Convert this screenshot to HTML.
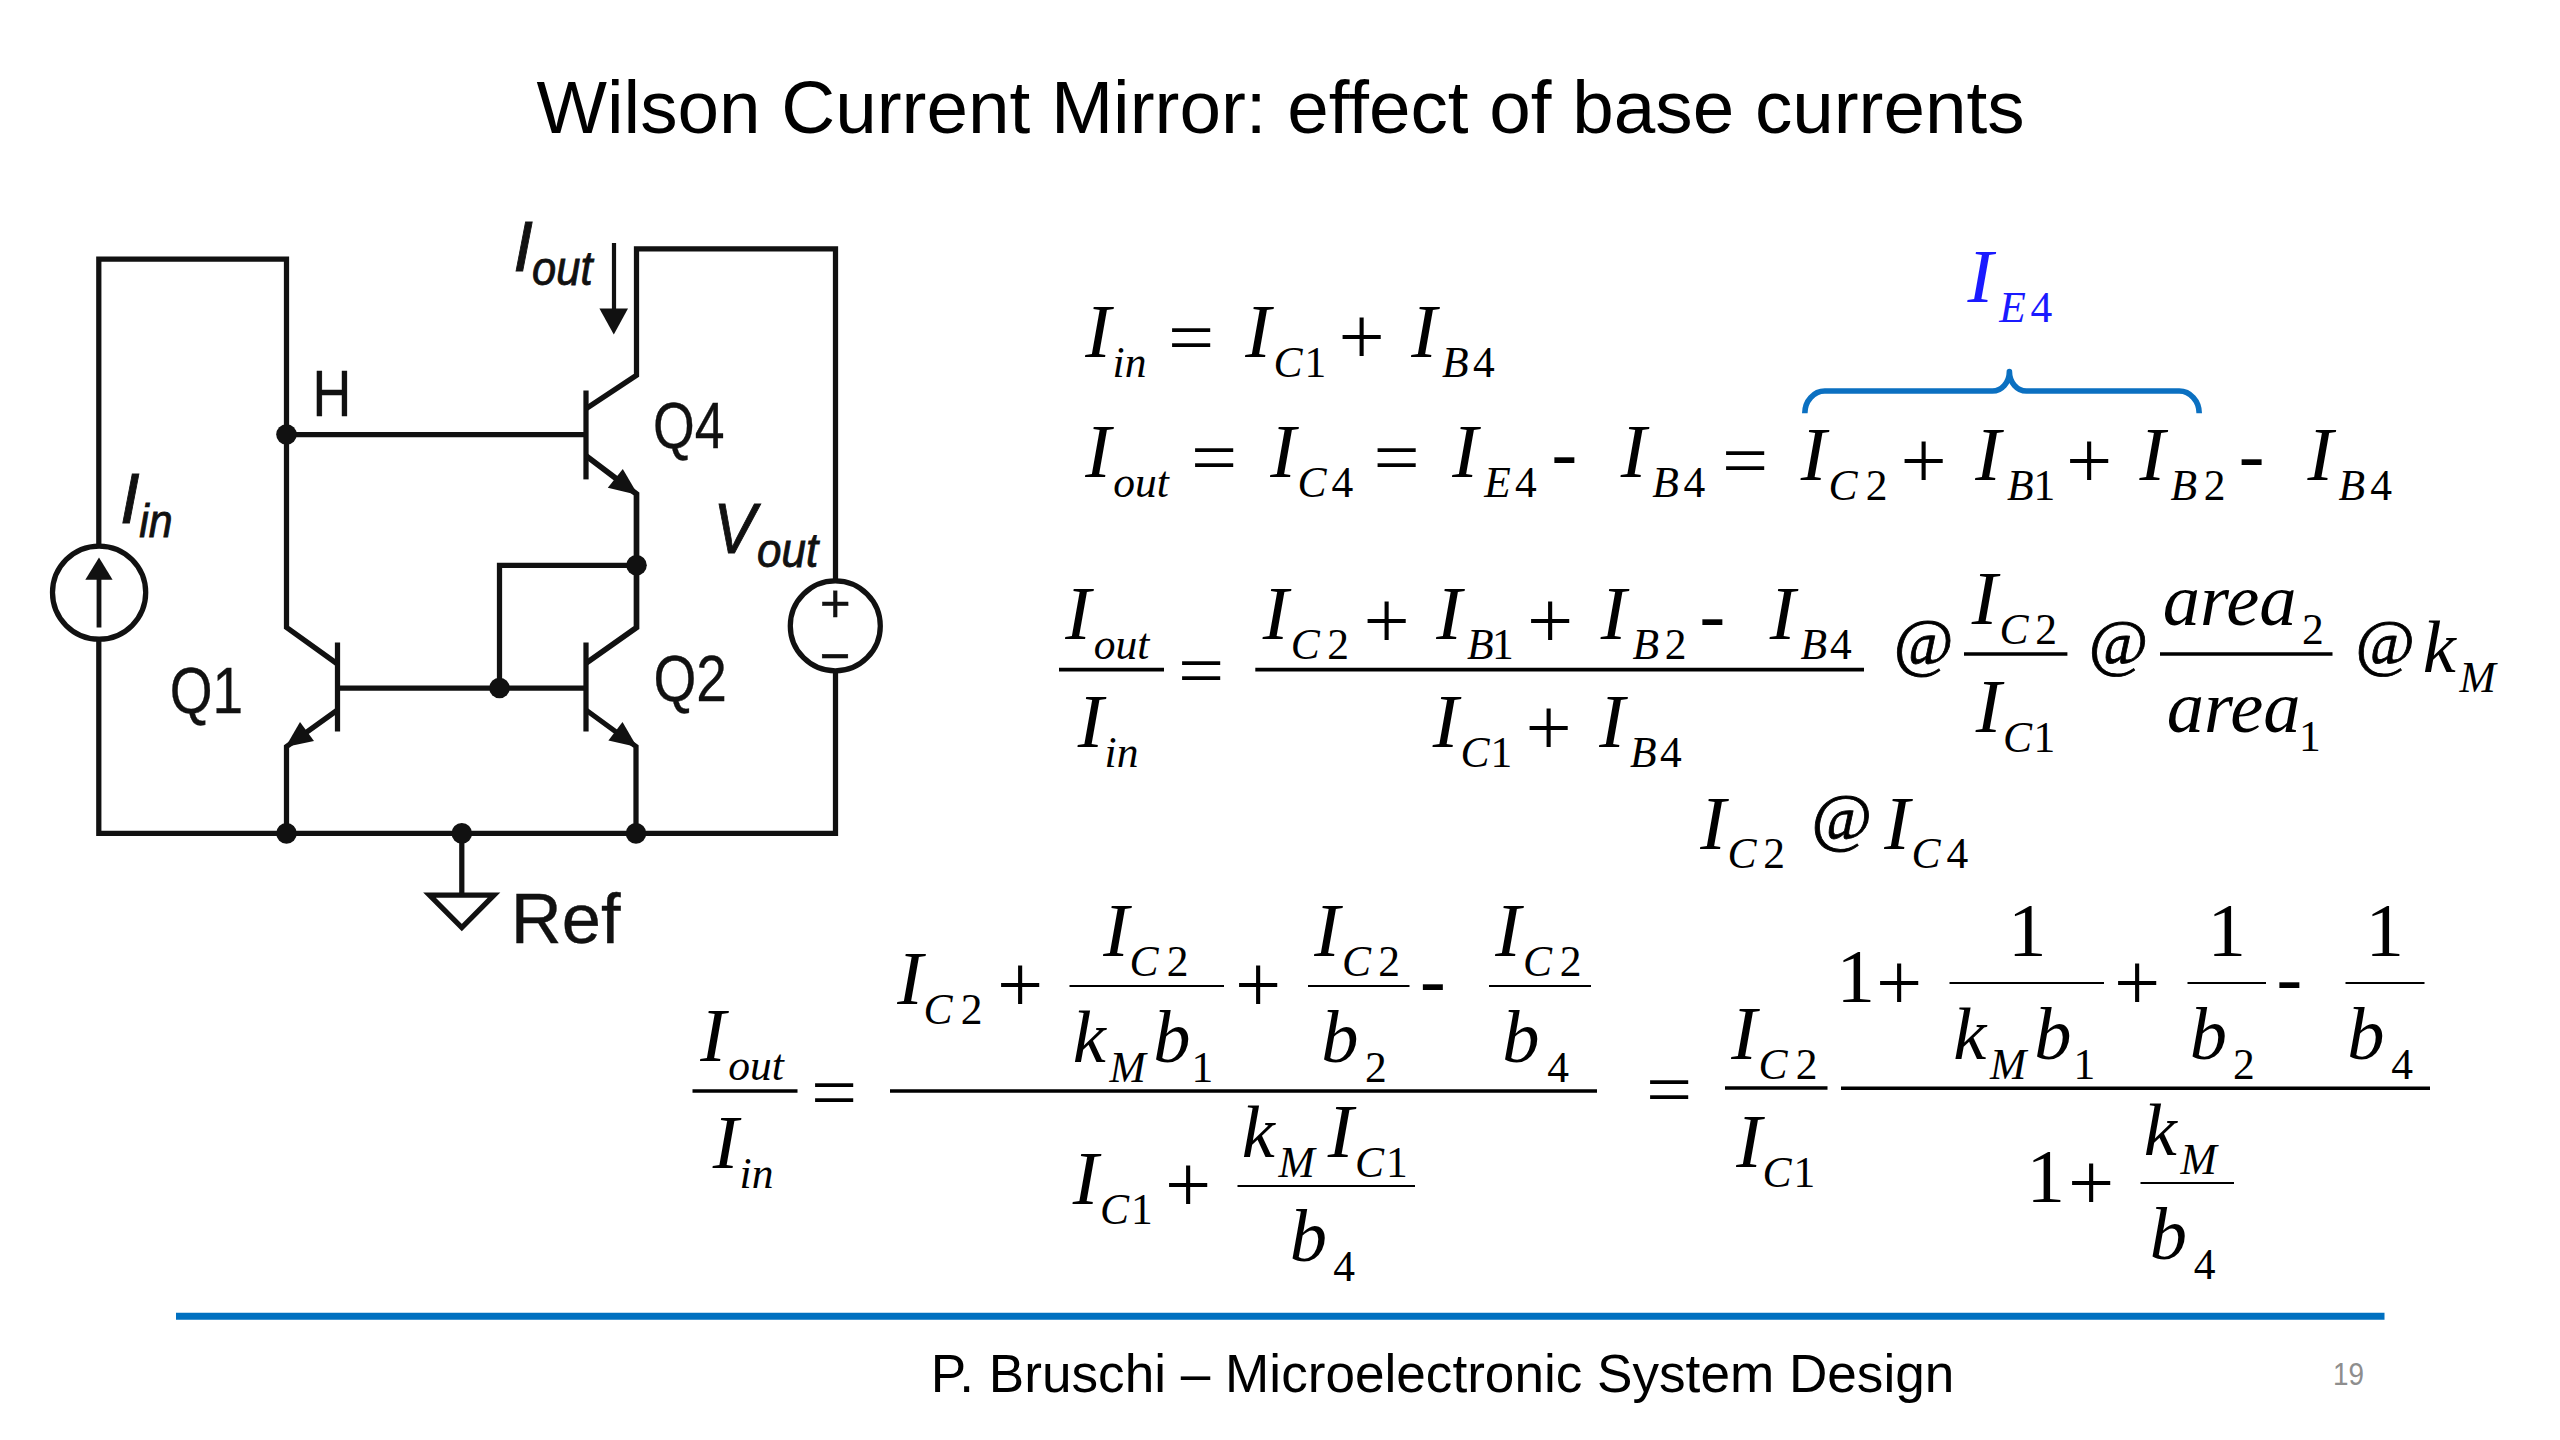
<!DOCTYPE html>
<html lang="en"><head><meta charset="utf-8"><title>Wilson Current Mirror: effect of base currents</title>
<style>
html,body{margin:0;padding:0;background:#fff;}
body{width:2560px;height:1440px;overflow:hidden;}
svg{display:block;}
text{white-space:pre;}
.f{font-family:"Liberation Serif",serif;}
.fi{font-family:"Liberation Serif",serif;font-style:italic;}
.g{font-family:"Liberation Sans",sans-serif;}
.gi{font-family:"Liberation Sans",sans-serif;font-style:italic;}
</style></head><body>
<svg width="2560" height="1440" viewBox="0 0 2560 1440">
<rect width="2560" height="1440" fill="#fff"/>
<!-- footer rule -->
<line x1="176" y1="1316.2" x2="2384.5" y2="1316.2" stroke="#0070c0" stroke-width="7"/>
<!-- circuit -->
<g fill="none" stroke="#111" stroke-width="5.25" stroke-linejoin="miter" stroke-linecap="butt">
<!-- left loop + Q1 collector -->
<path d="M98.8 546 V259.2 H286.5 V627.5 L337.5 664"/>
<circle cx="99.1" cy="592.6" r="46.6"/>
<path d="M98.8 639 V833.4 H835.5 V672"/>
<circle cx="835.3" cy="625.9" r="45"/>
<path d="M835.5 580 V248.8 H636.5 V375.3 L586.3 408.5"/>
<!-- Q4 -->
<path d="M586 390.5 V479.4"/>
<path d="M286.5 434.5 H586"/>
<path d="M586.3 456 L636.5 494 V627.5 L586.3 663" stroke-width="5.7"/>
<!-- diode connection -->
<path d="M636.5 565.3 H499.5 V688"/>
<path d="M337.5 688 H586"/>
<!-- Q1 / Q2 -->
<path d="M337.5 642.5 V731.5"/>
<path d="M586 642.5 V731.5"/>
<path d="M337.5 710 L286.5 746.5 V833.4"/>
<path d="M586 710 L636 746.5 V833.4"/>
<!-- ground -->
<path d="M461.8 833.4 V895"/>
<path d="M429.5 895.2 H494 L461.8 927.5 Z"/>
<!-- arrows shafts -->
<path d="M614 243 V312" stroke-width="4.2"/>
<path d="M99 627.5 V575" stroke-width="4.8"/>
</g>
<g fill="#111" stroke="none">
<circle cx="286.5" cy="434.5" r="10.3"/>
<circle cx="636.5" cy="565.3" r="10.3"/>
<circle cx="499.5" cy="688" r="10.3"/>
<circle cx="286.5" cy="833.4" r="10.3"/>
<circle cx="461.8" cy="833.4" r="10.3"/>
<circle cx="636" cy="833.4" r="10.3"/>
<polygon points="599.4,308.4 628,308.4 613.8,334.5"/>
<polygon points="99,557.5 85.3,579.8 112.6,579.8"/>
<polygon points="638,495 622.8,469 607.8,487.8"/>
<polygon points="637,747 622.5,722 608.4,740.4"/>
<polygon points="285.5,747 300,722 314,741"/>
</g>

<!-- fraction bars -->
<g>
<line x1="1059" y1="669.6" x2="1164" y2="669.6" stroke="#000" stroke-width="3.6"/>
<line x1="1255.3" y1="669.6" x2="1864" y2="669.6" stroke="#000" stroke-width="3.6"/>
<line x1="1964" y1="654" x2="2067.4" y2="654" stroke="#000" stroke-width="3.4"/>
<line x1="2160" y1="654" x2="2332.5" y2="654" stroke="#000" stroke-width="3.4"/>
<line x1="692.5" y1="1091" x2="797.5" y2="1091" stroke="#000" stroke-width="3.6"/>
<line x1="890" y1="1091" x2="1597" y2="1091" stroke="#000" stroke-width="3.6"/>
<line x1="1069.5" y1="986" x2="1224" y2="986" stroke="#000" stroke-width="2.2"/>
<line x1="1308" y1="986" x2="1409.5" y2="986" stroke="#000" stroke-width="2.2"/>
<line x1="1489" y1="986" x2="1591" y2="986" stroke="#000" stroke-width="2.2"/>
<line x1="1237.5" y1="1186" x2="1415" y2="1186" stroke="#000" stroke-width="2.2"/>
<line x1="1725" y1="1088" x2="1827.5" y2="1088" stroke="#000" stroke-width="3.4"/>
<line x1="1841" y1="1088.3" x2="2430" y2="1088.3" stroke="#000" stroke-width="3.6"/>
<line x1="1949.5" y1="983" x2="2104" y2="983" stroke="#000" stroke-width="2.2"/>
<line x1="2187.5" y1="983" x2="2266" y2="983" stroke="#000" stroke-width="2.2"/>
<line x1="2345.5" y1="983" x2="2424.5" y2="983" stroke="#000" stroke-width="2.2"/>
<line x1="2140.5" y1="1183" x2="2234" y2="1183" stroke="#000" stroke-width="2.2"/>
</g>
<!-- brace -->
<path d="M1804.8 413.2 A20 22.2 0 0 1 1824.8 391 H1992.4 A17 19.5 0 0 0 2009.4 371.5 A17 19.5 0 0 0 2026.4 391 H2179.2 A20 22.2 0 0 1 2199.2 413.2" fill="none" stroke="#0b70c1" stroke-width="5.6" stroke-linejoin="round"/>
<!-- text -->
<g fill="#000">
<text class="fi" x="1085.19" y="357.30" font-size="77.00">I</text>
<text class="fi" x="1112.61" y="377.00" font-size="43.50">in</text>
<text class="f" transform="translate(1167.90 361.74) scale(1.0 0.9)" font-size="82.00">=</text>
<text class="fi" x="1245.19" y="357.30" font-size="77.00">I</text>
<text class="fi" x="1273.61" y="377.00" font-size="43.50">C</text>
<text class="f" x="1304.53" y="377.00" font-size="43.50">1</text>
<text class="f" x="1338.40" y="364.46" font-size="82.00">+</text>
<text class="fi" x="1411.19" y="357.30" font-size="77.00">I</text>
<text class="fi" x="1442.07" y="377.00" font-size="43.50">B</text>
<text class="f" x="1472.90" y="377.00" font-size="43.50">4</text>
<text class="fi" x="1085.19" y="477.30" font-size="77.00">I</text>
<text class="fi" x="1113.19" y="497.00" font-size="43.50">out</text>
<text class="f" transform="translate(1190.90 482.24) scale(1.0 0.9)" font-size="82.00">=</text>
<text class="fi" x="1270.19" y="477.30" font-size="77.00">I</text>
<text class="fi" x="1297.61" y="497.00" font-size="43.50">C</text>
<text class="f" x="1331.40" y="497.00" font-size="43.50">4</text>
<text class="f" transform="translate(1373.40 482.24) scale(1.0 0.9)" font-size="82.00">=</text>
<text class="fi" x="1452.19" y="477.30" font-size="77.00">I</text>
<text class="fi" x="1484.29" y="497.00" font-size="43.50">E</text>
<text class="f" x="1514.90" y="497.00" font-size="43.50">4</text>
<text class="f" x="1551.41" y="477.90" font-size="77.00">-</text>
<text class="fi" x="1620.69" y="477.30" font-size="77.00">I</text>
<text class="fi" x="1652.27" y="497.00" font-size="43.50">B</text>
<text class="f" x="1683.60" y="497.00" font-size="43.50">4</text>
<text class="f" transform="translate(1722.10 484.84) scale(1.0 0.9)" font-size="82.00">=</text>
<text class="fi" x="1800.69" y="480.00" font-size="77.00">I</text>
<text class="fi" x="1828.61" y="499.70" font-size="43.50">C</text>
<text class="f" x="1865.64" y="499.70" font-size="43.50">2</text>
<text class="f" x="1900.50" y="487.66" font-size="82.00">+</text>
<text class="fi" x="1975.19" y="480.00" font-size="77.00">I</text>
<text class="fi" x="2007.07" y="499.70" font-size="43.50">B</text>
<text class="f" x="2033.53" y="499.70" font-size="43.50">1</text>
<text class="f" x="2065.90" y="487.66" font-size="82.00">+</text>
<text class="fi" x="2139.49" y="480.00" font-size="77.00">I</text>
<text class="fi" x="2170.57" y="499.70" font-size="43.50">B</text>
<text class="f" x="2203.64" y="499.70" font-size="43.50">2</text>
<text class="f" x="2238.71" y="479.80" font-size="77.00">-</text>
<text class="fi" x="2307.39" y="480.00" font-size="77.00">I</text>
<text class="fi" x="2338.57" y="499.70" font-size="43.50">B</text>
<text class="f" x="2370.30" y="499.70" font-size="43.50">4</text>
<text class="fi" x="1967.59" y="302.00" font-size="77.00" fill="#1a1aff">I</text>
<text class="fi" x="1999.14" y="321.70" font-size="43.50" fill="#1a1aff">E</text>
<text class="f" x="2030.40" y="321.70" font-size="43.50" fill="#1a1aff">4</text>
<text class="fi" x="1065.19" y="639.30" font-size="77.00">I</text>
<text class="fi" x="1093.69" y="659.00" font-size="43.50">out</text>
<text class="fi" x="1077.69" y="747.00" font-size="77.00">I</text>
<text class="fi" x="1104.61" y="766.70" font-size="43.50">in</text>
<text class="f" transform="translate(1177.90 694.84) scale(1.0 0.9)" font-size="82.00">=</text>
<text class="fi" x="1262.79" y="639.30" font-size="77.00">I</text>
<text class="fi" x="1290.81" y="659.00" font-size="43.50">C</text>
<text class="f" x="1327.14" y="659.00" font-size="43.50">2</text>
<text class="f" x="1363.50" y="648.26" font-size="82.00">+</text>
<text class="fi" x="1436.19" y="639.30" font-size="77.00">I</text>
<text class="fi" x="1467.07" y="659.00" font-size="43.50">B</text>
<text class="f" x="1492.03" y="659.00" font-size="43.50">1</text>
<text class="f" x="1526.90" y="648.26" font-size="82.00">+</text>
<text class="fi" x="1600.69" y="639.30" font-size="77.00">I</text>
<text class="fi" x="1632.57" y="659.00" font-size="43.50">B</text>
<text class="f" x="1664.64" y="659.00" font-size="43.50">2</text>
<text class="f" x="1699.61" y="639.50" font-size="77.00">-</text>
<text class="fi" x="1769.69" y="639.30" font-size="77.00">I</text>
<text class="fi" x="1800.57" y="659.00" font-size="43.50">B</text>
<text class="f" x="1829.90" y="659.00" font-size="43.50">4</text>
<text class="fi" x="1432.69" y="747.00" font-size="77.00">I</text>
<text class="fi" x="1460.61" y="766.70" font-size="43.50">C</text>
<text class="f" x="1490.53" y="766.70" font-size="43.50">1</text>
<text class="f" x="1525.40" y="755.47" font-size="82.00">+</text>
<text class="fi" x="1599.19" y="747.00" font-size="77.00">I</text>
<text class="fi" x="1630.07" y="766.70" font-size="43.50">B</text>
<text class="f" x="1659.90" y="766.70" font-size="43.50">4</text>
<text class="fi" x="1893.47" y="663.99" font-size="64.79" stroke="#000" stroke-width="0.8">@</text>
<text class="fi" x="1971.79" y="624.20" font-size="77.00">I</text>
<text class="fi" x="1999.41" y="643.90" font-size="43.50">C</text>
<text class="f" x="2035.14" y="643.90" font-size="43.50">2</text>
<text class="fi" x="1975.69" y="731.80" font-size="77.00">I</text>
<text class="fi" x="2003.01" y="751.50" font-size="43.50">C</text>
<text class="f" x="2033.53" y="751.50" font-size="43.50">1</text>
<text class="fi" x="2088.50" y="663.90" font-size="64.42" stroke="#000" stroke-width="0.8">@</text>
<text class="fi" x="2162.76" y="625.00" font-size="74.50">area</text>
<text class="f" x="2302.04" y="643.50" font-size="43.50">2</text>
<text class="fi" x="2166.76" y="731.80" font-size="74.50">area</text>
<text class="f" x="2299.03" y="751.00" font-size="43.50">1</text>
<text class="fi" x="2355.30" y="663.90" font-size="64.42" stroke="#000" stroke-width="0.8">@</text>
<text class="fi" x="2422.76" y="672.20" font-size="74.50">k</text>
<text class="fi" x="2459.54" y="691.80" font-size="43.50">M</text>
<text class="fi" x="1700.19" y="848.60" font-size="77.00">I</text>
<text class="fi" x="1727.61" y="868.30" font-size="43.50">C</text>
<text class="f" x="1763.14" y="868.30" font-size="43.50">2</text>
<text class="fi" x="1811.23" y="839.49" font-size="65.64" stroke="#000" stroke-width="0.8">@</text>
<text class="fi" x="1884.19" y="848.60" font-size="77.00">I</text>
<text class="fi" x="1911.61" y="868.30" font-size="43.50">C</text>
<text class="f" x="1946.40" y="868.30" font-size="43.50">4</text>
<text class="fi" x="700.19" y="1060.50" font-size="77.00">I</text>
<text class="fi" x="728.20" y="1080.20" font-size="43.50">out</text>
<text class="fi" x="712.69" y="1167.80" font-size="77.00">I</text>
<text class="fi" x="739.61" y="1187.50" font-size="43.50">in</text>
<text class="f" transform="translate(810.90 1116.54) scale(1.0 0.9)" font-size="82.00">=</text>
<text class="fi" x="897.19" y="1004.00" font-size="77.00">I</text>
<text class="fi" x="923.61" y="1023.70" font-size="43.50">C</text>
<text class="f" x="960.64" y="1023.70" font-size="43.50">2</text>
<text class="f" x="996.90" y="1012.26" font-size="82.00">+</text>
<text class="fi" x="1103.19" y="956.30" font-size="77.00">I</text>
<text class="fi" x="1129.61" y="976.00" font-size="43.50">C</text>
<text class="f" x="1166.64" y="976.00" font-size="43.50">2</text>
<text class="fi" x="1072.77" y="1062.00" font-size="74.50">k</text>
<text class="fi" x="1109.54" y="1081.70" font-size="43.50">M</text>
<text class="fi" x="1153.21" y="1062.00" font-size="74.50">b</text>
<text class="f" x="1191.53" y="1081.70" font-size="43.50">1</text>
<text class="f" x="1234.90" y="1012.26" font-size="82.00">+</text>
<text class="fi" x="1314.19" y="956.30" font-size="77.00">I</text>
<text class="fi" x="1342.11" y="976.00" font-size="43.50">C</text>
<text class="f" x="1378.14" y="976.00" font-size="43.50">2</text>
<text class="fi" x="1321.21" y="1062.00" font-size="74.50">b</text>
<text class="f" x="1365.04" y="1081.70" font-size="43.50">2</text>
<text class="f" x="1420.11" y="1004.60" font-size="77.00">-</text>
<text class="fi" x="1495.19" y="956.30" font-size="77.00">I</text>
<text class="fi" x="1523.11" y="976.00" font-size="43.50">C</text>
<text class="f" x="1559.64" y="976.00" font-size="43.50">2</text>
<text class="fi" x="1502.21" y="1062.00" font-size="74.50">b</text>
<text class="f" x="1547.13" y="1081.70" font-size="43.50">4</text>
<text class="fi" x="1072.69" y="1203.90" font-size="77.00">I</text>
<text class="fi" x="1100.11" y="1223.60" font-size="43.50">C</text>
<text class="f" x="1131.03" y="1223.60" font-size="43.50">1</text>
<text class="f" x="1164.90" y="1212.47" font-size="82.00">+</text>
<text class="fi" x="1241.77" y="1157.00" font-size="74.50">k</text>
<text class="fi" x="1278.54" y="1176.70" font-size="43.50">M</text>
<text class="fi" x="1327.69" y="1157.00" font-size="77.00">I</text>
<text class="fi" x="1355.11" y="1176.70" font-size="43.50">C</text>
<text class="f" x="1386.03" y="1176.70" font-size="43.50">1</text>
<text class="fi" x="1289.71" y="1261.00" font-size="74.50">b</text>
<text class="f" x="1333.13" y="1280.70" font-size="43.50">4</text>
<text class="f" transform="translate(1645.90 1113.54) scale(1.0 0.9)" font-size="82.00">=</text>
<text class="fi" x="1731.19" y="1058.90" font-size="77.00">I</text>
<text class="fi" x="1758.61" y="1078.60" font-size="43.50">C</text>
<text class="f" x="1795.64" y="1078.60" font-size="43.50">2</text>
<text class="fi" x="1736.19" y="1167.00" font-size="77.00">I</text>
<text class="fi" x="1762.61" y="1186.70" font-size="43.50">C</text>
<text class="f" x="1793.53" y="1186.70" font-size="43.50">1</text>
<text class="f" x="1836.44" y="1002.00" font-size="77.00">1</text>
<text class="f" x="1875.90" y="1010.26" font-size="82.00">+</text>
<text class="f" x="2007.94" y="956.00" font-size="77.00">1</text>
<text class="fi" x="1953.27" y="1058.90" font-size="74.50">k</text>
<text class="fi" x="1990.04" y="1078.60" font-size="43.50">M</text>
<text class="fi" x="2034.21" y="1058.90" font-size="74.50">b</text>
<text class="f" x="2073.53" y="1078.60" font-size="43.50">1</text>
<text class="f" x="2113.90" y="1010.26" font-size="82.00">+</text>
<text class="f" x="2207.44" y="956.00" font-size="77.00">1</text>
<text class="fi" x="2189.71" y="1058.90" font-size="74.50">b</text>
<text class="f" x="2233.04" y="1078.60" font-size="43.50">2</text>
<text class="f" x="2276.61" y="1002.60" font-size="77.00">-</text>
<text class="f" x="2365.44" y="956.00" font-size="77.00">1</text>
<text class="fi" x="2347.21" y="1058.90" font-size="74.50">b</text>
<text class="f" x="2391.13" y="1078.60" font-size="43.50">4</text>
<text class="f" x="2026.44" y="1201.70" font-size="77.00">1</text>
<text class="f" x="2067.90" y="1210.27" font-size="82.00">+</text>
<text class="fi" x="2143.76" y="1154.60" font-size="74.50">k</text>
<text class="fi" x="2180.54" y="1174.30" font-size="43.50">M</text>
<text class="fi" x="2149.71" y="1258.90" font-size="74.50">b</text>
<text class="f" x="2193.63" y="1278.60" font-size="43.50">4</text>
<text class="g" x="536.50" y="133.00" font-size="74.67">Wilson Current Mirror: effect of base currents</text>
<text class="g" x="930.77" y="1392.00" font-size="53.13">P. Bruschi – Microelectronic System Design</text>
<text class="g" transform="translate(2333.11 1384.60) scale(0.8993 1.0)" font-size="31.00" fill="#8e8e8e">19</text>
<text class="g" transform="translate(312.56 415.80) scale(0.8295 1.0)" font-size="64.87" fill="#111" stroke="#111" stroke-width="0.35">H</text>
<text class="g" transform="translate(653.05 448.00) scale(0.8281 1.0)" font-size="64.73" fill="#111" stroke="#111" stroke-width="0.35">Q4</text>
<text class="g" transform="translate(653.38 701.00) scale(0.8507 1.0)" font-size="64.73" fill="#111" stroke="#111" stroke-width="0.35">Q2</text>
<text class="g" transform="translate(169.69 713.20) scale(0.85 1.0)" font-size="64.73" fill="#111" stroke="#111" stroke-width="0.35">Q1</text>
<text class="g" transform="translate(510.78 943.40) scale(1.0141 1.0)" font-size="69.53" fill="#111" stroke="#111" stroke-width="0.35">Ref</text>
<text class="gi" transform="translate(513.16 271.00) scale(1.0059 1.0)" font-size="70.69" fill="#111" stroke="#111" stroke-width="0.9">I</text>
<text class="gi" transform="translate(532.09 285.00) scale(0.9167 1.0)" font-size="47.39" fill="#111" stroke="#111" stroke-width="0.9">out</text>
<text class="gi" transform="translate(119.96 522.50) scale(0.9987 1.0)" font-size="70.98" fill="#111" stroke="#111" stroke-width="0.9">I</text>
<text class="gi" transform="translate(139.25 536.50) scale(0.914 1.0)" font-size="46.82" fill="#111" stroke="#111" stroke-width="0.9">in</text>
<text class="gi" transform="translate(713.44 552.50) scale(0.9135 1.0)" font-size="69.53" fill="#111" stroke="#111" stroke-width="0.9">V</text>
<text class="gi" transform="translate(757.07 566.60) scale(0.9273 1.0)" font-size="47.39" fill="#111" stroke="#111" stroke-width="0.9">out</text>
<text class="g" x="819.70" y="621.62" font-size="53.00" fill="#111" stroke="#111" stroke-width="0.35">+</text>
<text class="g" x="819.70" y="674.12" font-size="53.00" fill="#111" stroke="#111" stroke-width="0.35">−</text>
</g>
</svg>
</body></html>
